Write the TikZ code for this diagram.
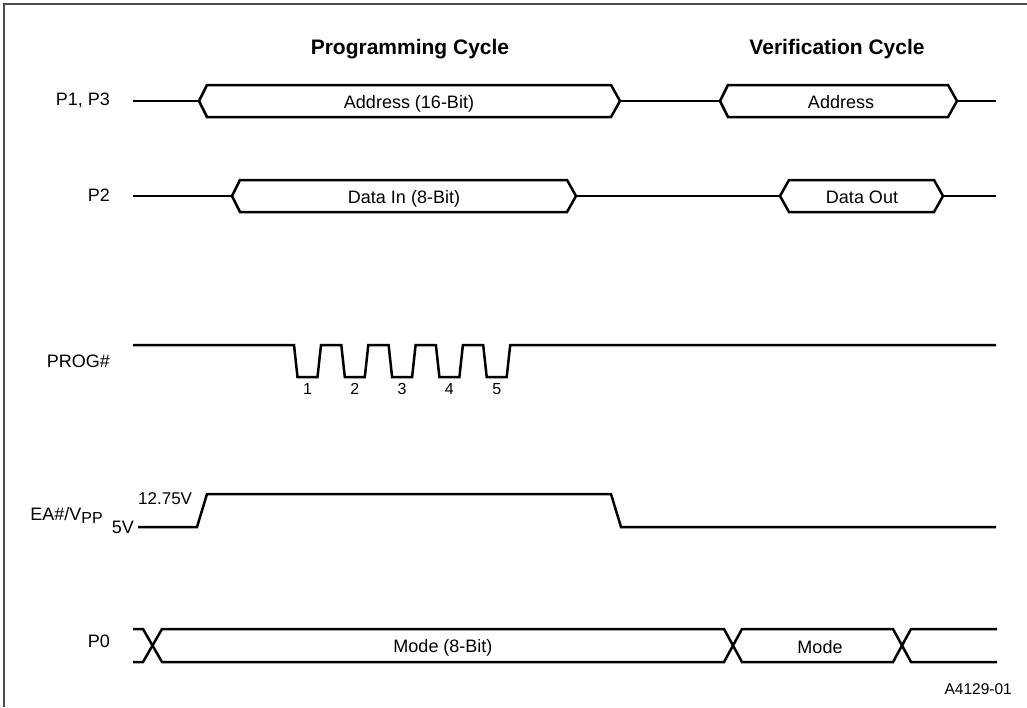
\documentclass[tikz,border=0pt]{standalone}
\usepackage{fontspec}
\setmainfont{Liberation Sans}
\begin{document}
\begin{tikzpicture}[x=1pt,y=-1pt,
  sig/.style={line width=2.5pt, black, line join=miter},
  frameline/.style={line width=1.4pt, black!70},
  lbl/.style={inner sep=0pt, font=\fontsize{18}{20}\selectfont},
  small/.style={inner sep=0pt, font=\fontsize{17}{19}\selectfont},
  num/.style={inner sep=0pt, font=\fontsize{16}{18}\selectfont},
  title/.style={inner sep=0pt, font=\fontsize{21}{24}\selectfont\bfseries}]
\useasboundingbox (0,0) rectangle (1027,707);
% frame
\draw[frameline] (4,707) -- (4,4) -- (1027,4);
% titles
\node[title, anchor=base] (t1) at (410,54) {Programming Cycle};
\node[title, anchor=base] (t2) at (837,54) {Verification Cycle};
% signal labels
\node[lbl, anchor=base east] (lp13) at (110,105.5) {P1, P3};
\node[lbl, anchor=base east] (lp2) at (110,201.5) {P2};
\node[lbl, anchor=base east] (lprog) at (110,367.5) {PROG\#};
\node[lbl, anchor=base east] (lea) at (103,520) {EA\#/V\raisebox{-3.5pt}{\fontsize{16}{16}\selectfont PP}};
\node[lbl, anchor=base east] (lp0) at (110,647) {P0};
% P1, P3
\draw[sig] (133,101) -- (199,101);
\draw[sig] (199,101) -- (207,85) -- (611,85) -- (620,101) -- (611,117) -- (207,117) -- cycle;
\draw[sig] (620,101) -- (720,101);
\draw[sig] (720,101) -- (728,85) -- (948,85) -- (957,101) -- (948,117) -- (728,117) -- cycle;
\draw[sig] (957,101) -- (996,101);
\node[lbl, anchor=base] (a16) at (409,108) {Address (16-Bit)};
\node[lbl, anchor=base] (av) at (841,108) {Address};
% P2
\draw[sig] (133,196) -- (232,196);
\draw[sig] (232,196) -- (240,180) -- (567,180) -- (576,196) -- (567,212) -- (240,212) -- cycle;
\draw[sig] (576,196) -- (780,196);
\draw[sig] (780,196) -- (789,180) -- (934,180) -- (943,196) -- (934,212) -- (789,212) -- cycle;
\draw[sig] (943,196) -- (996,196);
\node[lbl, anchor=base] (din) at (404,203) {Data In (8-Bit)};
\node[lbl, anchor=base] (dout) at (862,203) {Data Out};
% PROG#
\draw[sig] (133,345)
  \foreach \i in {0,...,4} {
    -- ({294+47.3*\i},345) -- ({297.5+47.3*\i},377) -- ({317.5+47.3*\i},377) -- ({321+47.3*\i},345)
  } -- (996,345);
\foreach \i in {1,...,5} {
  \node[num, anchor=base] (pn\i) at ({307.5+47.3*(\i-1)},394) {\i};
}
% EA#/VPP
\draw[sig] (138,527) -- (197,527) -- (207,494) -- (611,494) -- (621,527) -- (996,527);
\node[small, anchor=base west] (v12) at (138,504) {12.75V};
\node[lbl, anchor=base east] (v5) at (134,533) {5V};
% P0
\draw[sig] (133,629) -- (143,629) -- (162,662) -- (724,662) -- (742,629) -- (893,629) -- (911,662) -- (997,662);
\draw[sig] (133,662) -- (143,662) -- (162,629) -- (724,629) -- (742,662) -- (893,662) -- (911,629) -- (997,629);
\node[lbl, anchor=base] (m8) at (443,652) {Mode (8-Bit)};
\node[lbl, anchor=base] (mv) at (820,653) {Mode};
% figure id
\node[num, anchor=base east, font=\fontsize{15.5}{17}\selectfont] (fid) at (1012,694) {A4129-01};
\end{tikzpicture}
\end{document}
